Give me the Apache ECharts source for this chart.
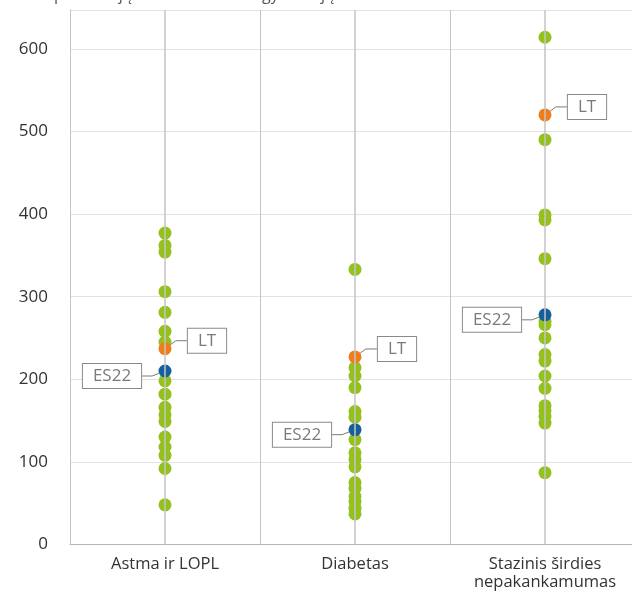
<!DOCTYPE html>
<html>
<head>
<meta charset="utf-8">
<script src="https://cdn.jsdelivr.net/npm/echarts@6/dist/echarts.min.js"></script>
<style>
html,body{margin:0;padding:0;background:#fff;overflow:hidden;}
#chart{width:632px;height:592px;}
</style>
</head>
<body>
<div id="chart"></div>
<script>
const titleText = 'Hospitalizacijų skaičius 100 000 gyventojų';
const categories = ['Astma ir LOPL', 'Diabetas', 'Stazinis širdies\nnepakankamumas'];
const otherCountries = [
  [377, 362, 354, 306, 281, 258, 245, 198, 182, 166, 157, 149, 130, 118, 108, 92, 48],
  [333, 214, 204, 190, 161, 154, 127, 111, 103, 94, 75, 68, 58, 52, 44, 37],
  [614, 490, 399, 393, 346, 270, 266, 250, 230, 222, 204, 189, 168, 162, 155, 147, 87]
];
const ltValues = [237, 227, 520];
const es22Values = [210, 139, 278];
const ltLabel = 'LT';
const es22Label = 'ES22';

const greenData = [];
otherCountries.forEach((vals, i) => vals.forEach(v => greenData.push([i, v])));
const ltData = ltValues.map((v, i) => [i, v]);
const esData = es22Values.map((v, i) => [i, v]);

const chart = echarts.init(document.getElementById('chart'), null, {renderer: 'canvas'});
const boxLabel = (txt) => ({
  show: true,
  position: 'inside',
  formatter: txt,
  color: '#7a7a7a',
  fontFamily: 'Open Sans',
  fontSize: 17,
  backgroundColor: '#fff',
  borderColor: '#8a8a8a',
  borderWidth: 1,
  padding: [4, 10, 3, 10]
});
chart.setOption({
  animation: false,
  title: {
    text: titleText,
    left: 20,
    top: -18,
    textStyle: {color: '#555', fontSize: 16, fontWeight: 'normal', fontFamily: 'Open Sans'}
  },
  grid: {left: 70, width: 570, top: 10, height: 534.5, containLabel: false, outerBoundsMode: 'none'},
  xAxis: {
    type: 'category',
    data: categories,
    boundaryGap: true,
    axisLine: {show: true, lineStyle: {color: '#b5b5b5', width: 1}},
    axisTick: {show: false},
    splitLine: {show: true, lineStyle: {color: '#c4c4c4', width: 1}},
    axisLabel: {color: '#333', fontSize: 16.5, fontFamily: 'Open Sans', margin: 11, lineHeight: 18, interval: 0}
  },
  yAxis: {
    type: 'value',
    min: 0,
    max: 647,
    interval: 100,
    axisLine: {show: true, lineStyle: {color: '#c4c4c4', width: 1}},
    axisTick: {show: false},
    splitLine: {show: true, lineStyle: {color: '#e2e2e2', width: 1}},
    axisLabel: {
      color: '#333', fontSize: 17, fontFamily: 'Open Sans', margin: 22,
      formatter: v => (v % 100 === 0 ? String(v) : '')
    }
  },
  series: [
    {
      type: 'scatter',
      data: [],
      z: 1,
      silent: true,
      markLine: {
        silent: true,
        symbol: ['none', 'none'],
        label: {show: false},
        lineStyle: {color: '#c4c4c4', width: 1.5, type: 'solid'},
        data: categories.map((c, i) => ({xAxis: i}))
      }
    },
    {
      type: 'scatter',
      data: greenData,
      symbolSize: 13,
      z: 3,
      itemStyle: {color: '#95c11f', opacity: 1}
    },
    {
      type: 'scatter',
      data: ltData,
      symbolSize: 13,
      z: 4,
      itemStyle: {color: '#f07d1b', opacity: 1},
      label: boxLabel(ltLabel),
      labelLayout: {dx: 42, dy: -8},
      labelLine: {show: true, showAbove: true, length2: 11, lineStyle: {color: '#7a7a7a', width: 1}}
    },
    {
      type: 'scatter',
      data: esData,
      symbolSize: 13,
      z: 4,
      itemStyle: {color: '#155f9c', opacity: 1},
      label: boxLabel(es22Label),
      labelLayout: {dx: -53, dy: 5},
      labelLine: {show: true, showAbove: true, length2: 10, lineStyle: {color: '#7a7a7a', width: 1}}
    }
  ]
});
</script>
</body>
</html>
